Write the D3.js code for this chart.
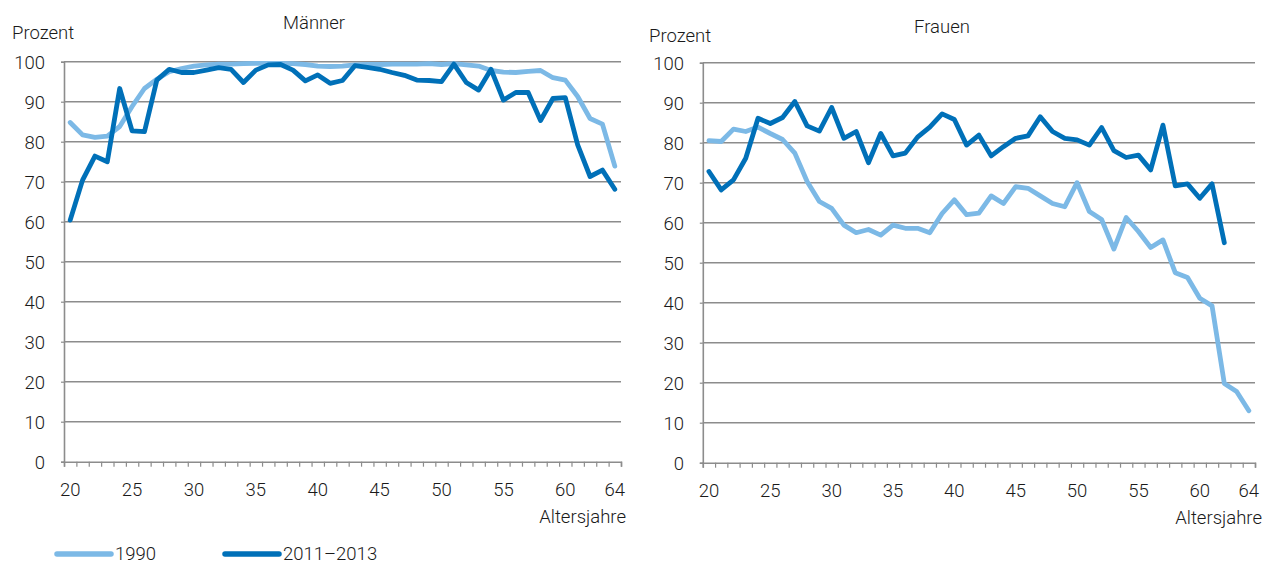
<!DOCTYPE html>
<html><head><meta charset="utf-8">
<script src="https://cdn.jsdelivr.net/npm/d3@7"></script>
<style>
body{margin:0;background:#fff;}
text{font-family:"Roboto","Liberation Sans",sans-serif;font-weight:300;fill:#1a1a1a;}
</style></head>
<body>
<svg id="c" width="1264" height="565"></svg>
<script>
const ages = d3.range(20, 65);
const xTickLabels = [20,25,30,35,40,45,50,55,60,64];
const yTicks = [0,10,20,30,40,50,60,70,80,90,100];
const seriesNames = ["1990","2011–2013"];
const colors = ["#7cb9e6","#0070b8"];

const men1990 = [84.8,81.7,81.1,81.4,83.8,88.8,93.3,95.6,97.5,98.3,98.9,99.2,99.4,99.4,99.5,99.6,99.6,99.6,99.5,99.3,98.9,98.8,98.9,99.2,99.3,99.3,99.4,99.4,99.4,99.5,99.3,99.5,99.2,98.9,97.8,97.4,97.3,97.6,97.8,96.0,95.4,91.3,85.8,84.4,73.9];
const men2013 = [60.4,70.4,76.4,75.0,93.3,82.7,82.5,95.4,98.1,97.3,97.3,97.9,98.5,98.1,94.8,97.9,99.2,99.3,97.9,95.2,96.7,94.6,95.3,99.0,98.6,98.1,97.3,96.6,95.4,95.3,95.0,99.4,94.8,92.9,98.1,90.4,92.3,92.3,85.3,90.8,91.0,79.2,71.3,72.9,68.1];
const women1990 = [80.5,80.3,83.4,82.8,83.9,82.3,80.8,77.4,70.3,65.3,63.6,59.4,57.5,58.3,56.9,59.4,58.6,58.6,57.5,62.3,65.7,62.0,62.4,66.7,64.8,69.0,68.6,66.7,64.8,64.0,70.0,62.8,60.8,53.4,61.3,57.8,53.8,55.7,47.5,46.3,41.1,39.2,19.8,17.8,13.0];
const women2013 = [72.8,68.2,70.7,76.1,86.1,84.8,86.3,90.3,84.2,82.9,88.8,81.1,82.8,75.0,82.3,76.7,77.4,81.4,83.9,87.2,85.8,79.4,81.9,76.7,79.0,81.1,81.7,86.5,82.8,81.1,80.7,79.4,83.8,78.0,76.3,76.9,73.2,84.4,69.2,69.7,66.1,69.7,55.0,null,null];

const svg = d3.select("#c");
const FS = 18.5;

function panel(opts){
  const {x0,x1,yTop,yBot,title,titleX,titleY,prozX,prozY,yLabX,data,altX} = opts;
  const g = svg.append("g");
  const x = d3.scaleBand().domain(ages).range([x0,x1]).paddingInner(0).paddingOuter(0);
  const y = d3.scaleLinear().domain([0,100]).range([yBot,yTop]);
  g.selectAll("line.grid").data(yTicks.filter(d=>d>0)).enter().append("line")
    .attr("x1",x0).attr("x2",x1).attr("y1",d=>y(d)).attr("y2",d=>y(d))
    .attr("stroke","#8c8c8c").attr("stroke-width",1.6);
  const yAx = g.append("g").attr("transform",`translate(${x0},0)`)
    .call(d3.axisLeft(y).tickValues(yTicks).tickSize(3).tickPadding(0).tickFormat(""));
  yAx.select(".domain").attr("stroke","#8c8c8c").attr("stroke-width",1.6);
  yAx.selectAll(".tick line").attr("stroke","#8c8c8c").attr("stroke-width",1.2);
  g.selectAll("text.ylab").data(yTicks).enter().append("text")
    .attr("x",yLabX).attr("y",d=>y(d)+7).attr("text-anchor","end")
    .attr("font-size",FS).text(d=>d);
  const xb = d3.scaleLinear().domain([0,ages.length]).range([x0,x1]);
  const xAx = g.append("g").attr("transform",`translate(0,${yBot})`)
    .call(d3.axisBottom(xb).tickValues(d3.range(0,ages.length+1)).tickSize(5).tickFormat(""));
  xAx.select(".domain").attr("stroke","#8c8c8c").attr("stroke-width",1.6);
  xAx.selectAll(".tick line").attr("stroke","#8c8c8c").attr("stroke-width",1.2);
  g.selectAll("text.xlab").data(xTickLabels).enter().append("text")
    .attr("x",d=>x(d)+x.bandwidth()/2).attr("y",yBot+34).attr("text-anchor","middle")
    .attr("font-size",FS).text(d=>d);
  g.append("text").attr("x",altX).attr("y",yBot+61).attr("text-anchor","end")
    .attr("font-size",FS).text("Altersjahre");
  g.append("text").attr("x",prozX).attr("y",prozY).attr("font-size",FS).text("Prozent");
  g.append("text").attr("x",titleX).attr("y",titleY).attr("text-anchor","middle")
    .attr("font-size",FS).text(title);
  const line = d3.line().defined(d=>d.v!=null)
    .x(d=>x(d.a)+x.bandwidth()/2).y(d=>y(d.v));
  data.forEach((arr,i)=>{
    g.append("path").datum(ages.map((a,j)=>({a,v:arr[j]})))
      .attr("d",line).attr("fill","none").attr("stroke",colors[i])
      .attr("stroke-width",4.8).attr("stroke-linejoin","round").attr("stroke-linecap","round");
  });
}

panel({x0:64,x1:621,yTop:61.7,yBot:461.7,title:"Männer",titleX:314,titleY:29,
  prozX:12,prozY:39,yLabX:45,data:[men1990,men2013],altX:626});
panel({x0:702.8,x1:1255,yTop:62.7,yBot:462.7,title:"Frauen",titleX:942,titleY:33,
  prozX:649,prozY:42,yLabX:684,data:[women1990,women2013],altX:1262});

const leg = svg.append("g");
const legX = [57,225];
seriesNames.forEach((n,i)=>{
  leg.append("line").attr("x1",legX[i]).attr("x2",legX[i]+54).attr("y1",554).attr("y2",554)
    .attr("stroke",colors[i]).attr("stroke-width",5.5).attr("stroke-linecap","round");
  leg.append("text").attr("x",legX[i]+58).attr("y",560).attr("font-size",FS).text(n);
});
</script>
</body></html>
